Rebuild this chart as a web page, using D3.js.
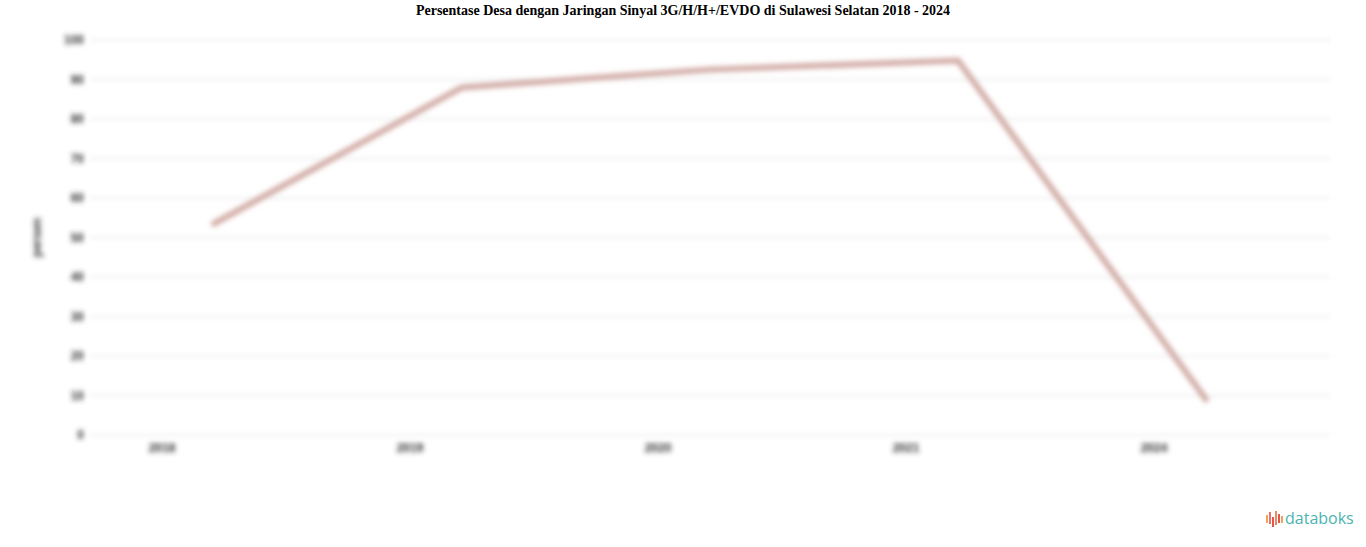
<!DOCTYPE html>
<html><head><meta charset="utf-8">
<script src="https://cdn.jsdelivr.net/npm/d3@7"></script>
<style>html,body{margin:0;padding:0;background:#fff;overflow:hidden}</style>
</head><body>
<svg id="c" width="1366" height="547"></svg>
<script>
const categories = ["2018", "2019", "2020", "2021", "2024"];
const values = [53.5, 88, 92.5, 94.8, 9];
const yTicks = [0, 10, 20, 30, 40, 50, 60, 70, 80, 90, 100];
const titleText = "Persentase Desa dengan Jaringan Sinyal 3G/H/H+/EVDO di Sulawesi Selatan 2018 - 2024";
const yTitle = "persen";

const svg = d3.select("#c");
const W = 1366, H = 547;
const m = {l: 90, r: 36, t: 40, b: 112};

const defs = svg.append("defs");
defs.append("filter").attr("id","blur").attr("x","-5%").attr("y","-5%").attr("width","110%").attr("height","110%")
  .append("feGaussianBlur").attr("stdDeviation", 2.8);

const x = d3.scaleBand().domain(categories).range([m.l, W - m.r]);
const y = d3.scaleLinear().domain([0, 100]).range([H - m.b, m.t]);

svg.append("text").attr("x", W/2).attr("y", 15).attr("text-anchor","middle")
  .attr("font-family","'Liberation Serif', 'Times New Roman', serif").attr("font-weight","bold")
  .attr("font-size", 14).attr("fill","#000").text(titleText);

const g = svg.append("g").attr("filter","url(#blur)");

// grid
g.append("g").selectAll("line").data(yTicks).join("line")
  .attr("x1", m.l).attr("x2", W - m.r)
  .attr("y1", d => y(d)).attr("y2", d => y(d))
  .attr("stroke", "#e8e8e8").attr("stroke-width", 1.5);

// y tick labels
g.append("g").selectAll("text").data(yTicks).join("text")
  .attr("x", 84).attr("y", d => y(d) + 4).attr("text-anchor","end")
  .attr("font-family","'Liberation Sans', Arial, sans-serif").attr("font-size", 12).attr("font-weight","bold")
  .attr("fill","#333").text(d => d);

// y title
g.append("text").attr("transform", `translate(41,${(y(0)+y(100))/2}) rotate(-90)`)
  .attr("text-anchor","middle").attr("font-family","'Liberation Sans', Arial, sans-serif")
  .attr("font-size", 12).attr("font-weight","bold").attr("fill","#333").text(yTitle);

// x labels
g.append("g").selectAll("text").data(categories).join("text")
  .attr("x", d => x(d) + x.bandwidth()/2 - 52).attr("y", y(0) + 17).attr("text-anchor","middle")
  .attr("font-family","'Liberation Sans', Arial, sans-serif").attr("font-size", 12).attr("font-weight","bold")
  .attr("fill","#333").text(d => d);

// line
const line = d3.line().x((d,i) => x(categories[i]) + x.bandwidth()/2).y(d => y(d));
g.append("path").datum(values).attr("d", line).attr("fill","none")
  .attr("stroke","#d2aca6").attr("stroke-width", 6).attr("stroke-linejoin","round").attr("stroke-linecap","round");

// logo
const lg = svg.append("g").attr("transform","translate(1266,511)");
const bars = [[0,4,8,"#f0a35e"],[3,1,12,"#ec7063"],[6,6,10,"#e2574c"],[9,0,14,"#f08a5d"],[12,3,9,"#e2574c"],[15,5,7,"#f0a35e"]];
lg.selectAll("rect").data(bars).join("rect")
  .attr("x", d => d[0]).attr("y", d => d[1]).attr("width", 2).attr("height", d => d[2]).attr("fill", d => d[3]);
lg.append("text").attr("x", 19).attr("y", 13).attr("font-family","'Open Sans', 'Noto Sans', sans-serif")
  .attr("font-size", 16).attr("fill","#4bb3b0").text("databoks");
</script>
</body></html>
